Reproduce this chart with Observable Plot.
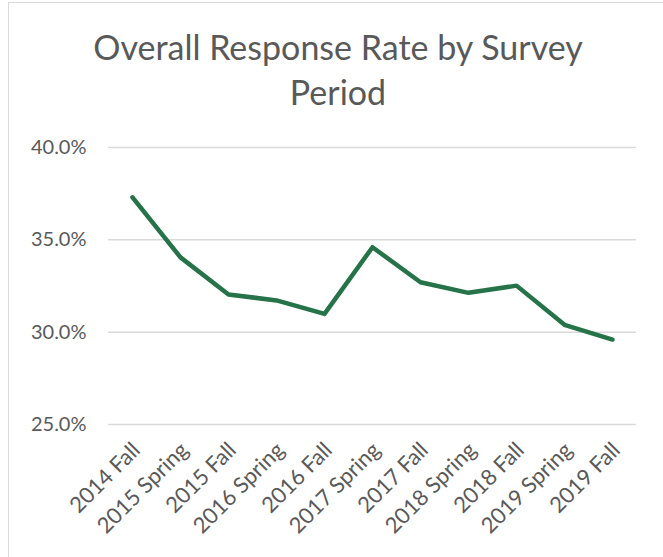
<!DOCTYPE html>
<html>
<head>
<meta charset="utf-8">
<script src="https://cdn.jsdelivr.net/npm/d3@7"></script>
<script src="https://cdn.jsdelivr.net/npm/@observablehq/plot@0.6"></script>
<style>
  html, body { margin: 0; padding: 0; background: #fff; }
  #wrap { position: relative; width: 663px; height: 557px; overflow: hidden; background: #fff; }
  #frame { position: absolute; left: 8px; top: 2px; width: 700px; height: 600px;
           border-left: 1.5px solid #d9d9d9; border-top: 1.5px solid #d9d9d9; }
  #title { position: absolute; left: 0; top: 24px; width: 676px; text-align: center;
           font-family: Lato, "Open Sans", sans-serif; font-size: 34px; line-height: 45px; color: #595959; }
  #chart { position: absolute; left: 0; top: 120px; }
</style>
</head>
<body>
<div id="wrap">
  <div id="frame"></div>
  <div id="title">Overall Response Rate by Survey<br>Period</div>
  <div id="chart"></div>
</div>
<script>
const periods = ["2014 Fall", "2015 Spring", "2015 Fall", "2016 Spring", "2016 Fall", "2017 Spring",
                 "2017 Fall", "2018 Spring", "2018 Fall", "2019 Spring", "2019 Fall"];
const rates = [37.3, 34.05, 32.04, 31.72, 30.99, 34.6, 32.7, 32.13, 32.52, 30.4, 29.6];
const yTicks = [25, 30, 35, 40];

const data = periods.map((p, i) => ({period: p, rate: rates[i]}));

const chart = Plot.plot({
  width: 663,
  height: 437,
  marginLeft: 108,
  marginRight: 27,
  marginTop: 27,
  marginBottom: 133,
  style: {fontFamily: "Lato, 'Open Sans', sans-serif", fontSize: "20px", color: "#595959", background: "transparent"},
  x: {type: "point", domain: periods, padding: 0.5},
  y: {domain: [25, 40]},
  marks: [
    Plot.gridY(yTicks, {stroke: "#d9d9d9", strokeOpacity: 1, strokeWidth: 1.5}),
    Plot.axisY(yTicks, {tickSize: 0, tickPadding: 22, tickFormat: d => d.toFixed(1) + "%", fontSize: 20, fill: "#595959", label: null}),
    Plot.axisX({tickSize: 0, tickRotate: -45, tickPadding: 6, dx: 4, dy: 16, fontSize: 22, fill: "#595959", label: null}),
    Plot.line(data, {x: "period", y: "rate", stroke: "#267349", strokeWidth: 4.5, strokeLinejoin: "round", strokeLinecap: "round"})
  ]
});
document.getElementById("chart").appendChild(chart);
</script>
</body>
</html>
